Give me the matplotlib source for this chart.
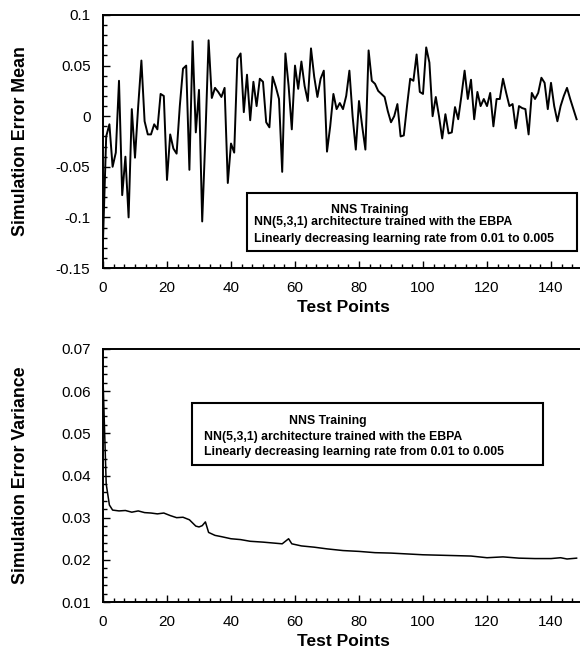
import matplotlib
matplotlib.use("Agg")
import matplotlib.pyplot as plt
from matplotlib.ticker import MultipleLocator, FixedLocator
from matplotlib.patches import Rectangle
import numpy as np

plt.rcParams['font.family'] = ['Liberation Sans', 'DejaVu Sans']

# ---- data ----
mean_vals = [
    -0.123, -0.020, -0.008, -0.050, -0.036, 0.035, -0.078, -0.040, -0.100, 0.007,
    -0.041, 0.010, 0.055, -0.005, -0.018, -0.018, -0.008, -0.013, 0.022, 0.020,
    -0.063, -0.018, -0.032, -0.037, 0.010, 0.047, 0.050, -0.053, 0.074, -0.016,
    0.026, -0.104, -0.020, 0.075, 0.018, 0.028, 0.024, 0.019, 0.028, -0.066,
    -0.027, -0.036, 0.057, 0.062, 0.004, 0.041, -0.004, 0.034, 0.010, 0.037,
    0.034, -0.006, -0.011, 0.039, 0.029, 0.017, -0.055, 0.062, 0.030, -0.013,
    0.050, 0.027, 0.054, 0.030, 0.015, 0.067, 0.039, 0.019, 0.037, 0.045,
    -0.035, -0.010, 0.022, 0.007, 0.013, 0.007, 0.020, 0.045, 0.000, -0.033,
    0.015, -0.010, -0.033, 0.065, 0.035, 0.032, 0.025, 0.022, 0.019, 0.005,
    -0.006, 0.000, 0.012, -0.020, -0.019, 0.010, 0.037, 0.035, 0.061, 0.024,
    0.022, 0.068, 0.053, 0.000, 0.019, 0.000, -0.022, 0.002, -0.017, -0.016,
    0.009, -0.003, 0.020, 0.045, 0.017, 0.036, -0.003, 0.024, 0.010, 0.017,
    0.010, 0.023, -0.010, 0.017, 0.017, 0.037, 0.023, 0.010, 0.012, -0.012,
    0.010, 0.008, 0.007, -0.018, 0.023, 0.017, 0.023, 0.038, 0.033, 0.007,
    0.033, 0.010, -0.005, 0.010, 0.020, 0.028, 0.017, 0.007, -0.003]
mean_x = list(range(len(mean_vals)))

var_x = [0, 1, 2, 3, 5, 7, 9, 11, 13, 15, 17, 19, 21, 23, 25, 27, 29, 30, 31, 32,
         33, 35, 37, 40, 43, 46, 50, 53, 56, 58, 59, 62, 66, 70, 75, 80, 85, 90,
         95, 100, 105, 110, 115, 120, 125, 130, 135, 140, 143, 145, 148]
var_vals = [0.063, 0.038, 0.033, 0.0318, 0.0316, 0.0317, 0.0313, 0.0316, 0.0312,
            0.0311, 0.0309, 0.0311, 0.0305, 0.0300, 0.0301, 0.0295, 0.0280, 0.0278,
            0.0281, 0.0290, 0.0265, 0.0258, 0.0255, 0.0250, 0.0248, 0.0244, 0.0242,
            0.0240, 0.0238, 0.0250, 0.0238, 0.0233, 0.0230, 0.0226, 0.0222, 0.0220,
            0.0217, 0.0216, 0.0214, 0.0212, 0.0211, 0.0210, 0.0209, 0.0205, 0.0207,
            0.0204, 0.0203, 0.0203, 0.0205, 0.0202, 0.0204]

x_ticks = [0, 20, 40, 60, 80, 100, 120, 140]
mean_yticks = [-0.15, -0.1, -0.05, 0, 0.05, 0.1]
mean_ylabels = ['-0.15', '-0.1', '-0.05', '0', '0.05', '0.1']
var_yticks = [0.01, 0.02, 0.03, 0.04, 0.05, 0.06, 0.07]
var_ylabels = ['0.01', '0.02', '0.03', '0.04', '0.05', '0.06', '0.07']

box_lines = ["NNS Training",
             "NN(5,3,1) architecture trained with the EBPA",
             "Linearly decreasing learning rate from 0.01 to 0.005"]

# ---- figure ----
W, H = 580, 662
fig = plt.figure(figsize=(W / 100, H / 100), dpi=100)

def px_axes(left, top, right, bottom):
    return fig.add_axes([left / W, 1 - bottom / H, (right - left) / W, (bottom - top) / H])

ax1 = px_axes(103, 15, 583, 268)
ax2 = px_axes(103, 349, 583, 602)

def style(ax, yticks, ylabels, yminor, ylim, ylabel):
    ax.set_xlim(0, 150)
    ax.set_ylim(*ylim)
    ax.xaxis.set_major_locator(FixedLocator(x_ticks))
    ax.xaxis.set_minor_locator(MultipleLocator(10 / 3))
    ax.set_yticks(yticks)
    ax.set_yticklabels(ylabels)
    ax.yaxis.set_minor_locator(MultipleLocator(yminor))
    ax.tick_params(which='both', direction='in', top=False, right=False,
                   labelsize=11, width=1.0)
    ax.tick_params(which='major', length=5)
    ax.tick_params(which='minor', length=3)
    ax.tick_params(axis='x', pad=9)
    ax.tick_params(axis='y', pad=9)
    for s in ax.spines.values():
        s.set_linewidth(1.4)
    ax.set_xlabel("Test Points", fontsize=12.5, fontweight='bold')
    ax.xaxis.set_label_coords(0.5, -0.125)
    ax.set_ylabel(ylabel, fontsize=12.8, fontweight='bold')
    ax.yaxis.set_label_coords(-0.155, 0.5)

style(ax1, mean_yticks, mean_ylabels, 0.01, (-0.15, 0.1), "Simulation Error Mean")
style(ax2, var_yticks, var_ylabels, 0.002, (0.01, 0.07), "Simulation Error Variance")

ax1.plot(mean_x, mean_vals, color='black', linewidth=1.4)
ax2.plot(var_x, var_vals, color='black', linewidth=1.1)

# box geometry expressed in pixels of the 580x662 canvas
def text_box(ax, ax_px, box_px, c_px, l_px, y2, y3):
    l, t, r, b = ax_px
    fx = lambda px: (px - l) / (r - l)
    fy = lambda py: (b - py) / (b - t)
    bl, bt, br, bb = box_px
    ax.add_patch(Rectangle((fx(bl), fy(bb)), fx(br) - fx(bl), fy(bt) - fy(bb),
                           transform=ax.transAxes, facecolor='white',
                           edgecolor='black', linewidth=1.5, zorder=5))
    kw = dict(transform=ax.transAxes, fontsize=8.8, fontweight='bold',
              va='center', zorder=6)
    ax.text(fx(c_px[0]), fy(c_px[1]), box_lines[0], ha='center', **kw)
    ax.text(fx(l_px), fy(y2), box_lines[1], ha='left', **kw)
    ax.text(fx(l_px), fy(y3), box_lines[2], ha='left', **kw)

text_box(ax1, (103, 15, 583, 268), (247, 193, 577, 251), (370, 209.5), 254, 222, 239)
text_box(ax2, (103, 349, 583, 602), (192, 403, 543, 465), (328, 421), 204, 437, 452)

fig.savefig("out.png", dpi=100)
